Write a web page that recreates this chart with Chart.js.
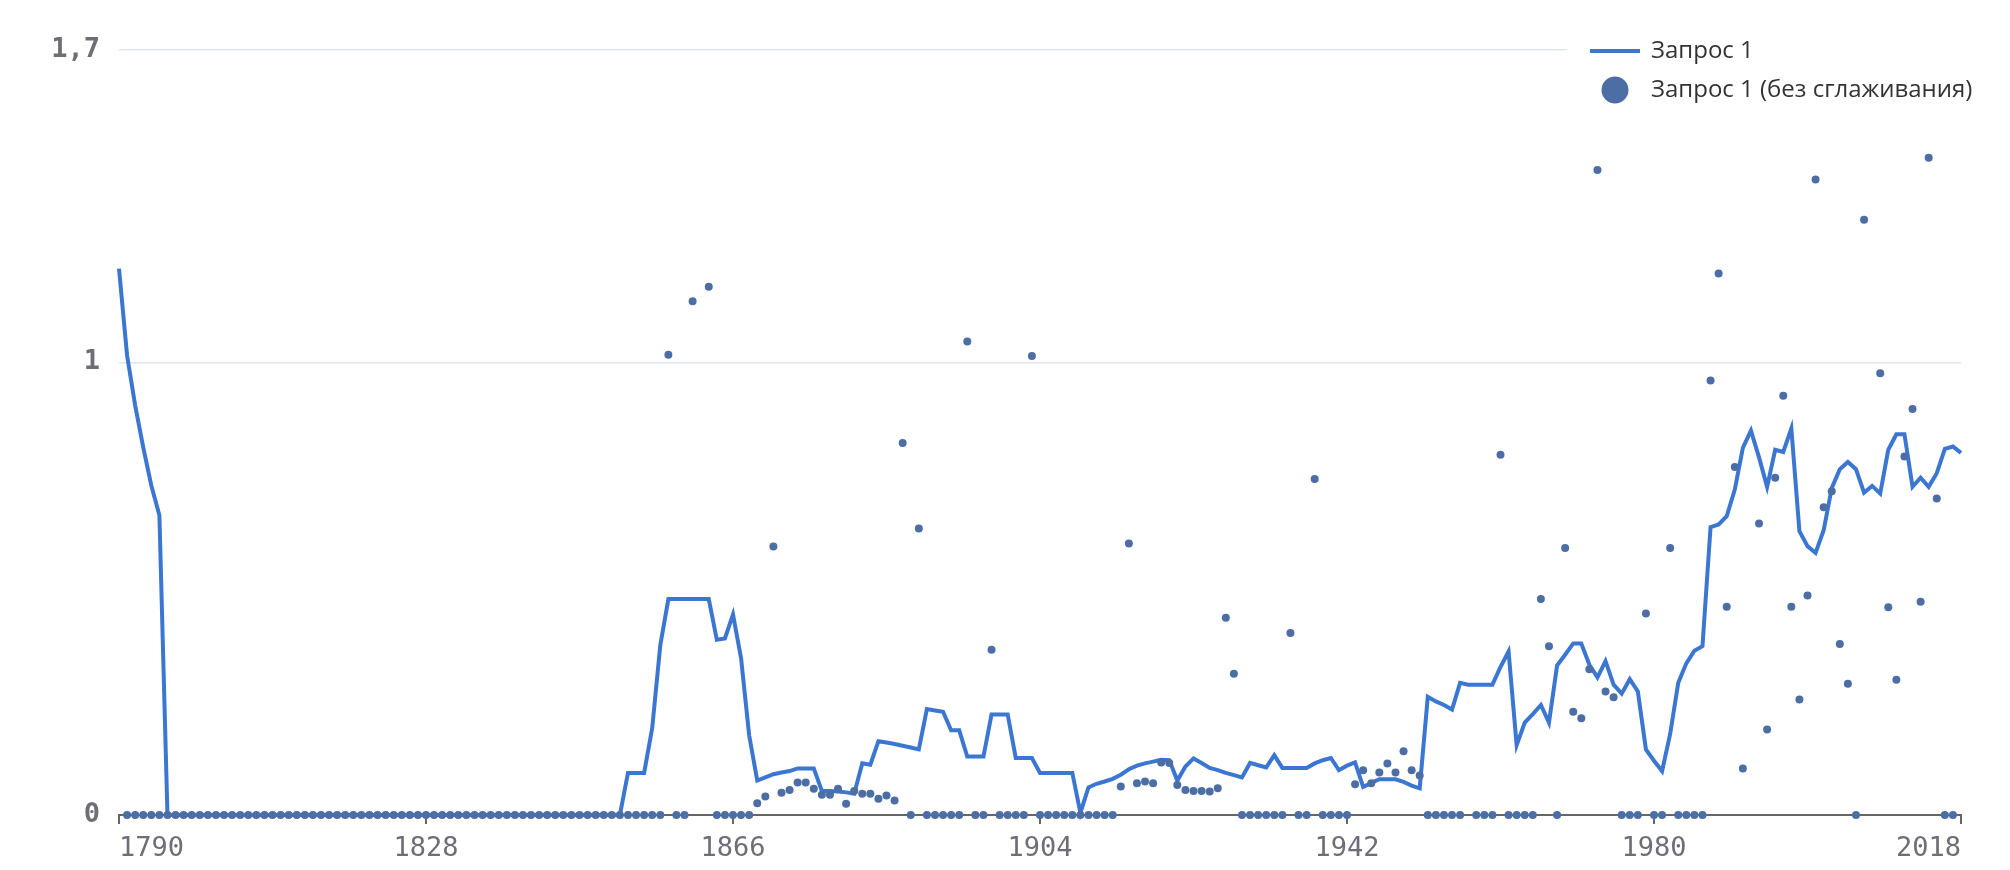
<!DOCTYPE html>
<html>
<head>
<meta charset="utf-8">
<script src="https://cdn.jsdelivr.net/npm/chart.js@4.4.1/dist/chart.umd.min.js"></script>
<style>
  html, body { margin: 0; padding: 0; background: #fff; }
  canvas { display: block; }
</style>
</head>
<body>
<canvas id="ngram" width="2010" height="870"></canvas>
<script>
// first year of both series, one value per year
const firstYear = 1790;
const tickYears = [1790, 1828, 1866, 1904, 1942, 1980, 2018];
const yTicks = [0, 1, 1.69];
const seriesNames = ["Запрос 1", "Запрос 1 (без сглаживания)"];

// smoothed
const smoothed = [
  1.207, 1.015, 0.905, 0.812, 0.728, 0.662, 0, 0, 0, 0,
  0, 0, 0, 0, 0, 0, 0, 0, 0, 0,
  0, 0, 0, 0, 0, 0, 0, 0, 0, 0,
  0, 0, 0, 0, 0, 0, 0, 0, 0, 0,
  0, 0, 0, 0, 0, 0, 0, 0, 0, 0,
  0, 0, 0, 0, 0, 0, 0, 0, 0, 0,
  0, 0, 0, 0.093, 0.093, 0.093, 0.192, 0.375, 0.477, 0.477,
  0.477, 0.477, 0.477, 0.477, 0.387, 0.39, 0.443, 0.346, 0.176, 0.076,
  0.083, 0.09, 0.094, 0.097, 0.103, 0.103, 0.103, 0.053, 0.053, 0.052,
  0.05, 0.047, 0.114, 0.111, 0.163, 0.16, 0.157, 0.153, 0.149, 0.145,
  0.234, 0.231, 0.228, 0.187, 0.187, 0.129, 0.129, 0.129, 0.222, 0.222,
  0.222, 0.126, 0.126, 0.126, 0.093, 0.093, 0.093, 0.093, 0.093, 0.005,
  0.061, 0.069, 0.074, 0.08, 0.089, 0.101, 0.109, 0.114, 0.118, 0.122,
  0.121, 0.076, 0.107, 0.125, 0.115, 0.104, 0.099, 0.093, 0.088, 0.083,
  0.115, 0.11, 0.105, 0.132, 0.104, 0.104, 0.104, 0.104, 0.114, 0.121,
  0.126, 0.099, 0.109, 0.116, 0.062, 0.071, 0.079, 0.079, 0.079, 0.073,
  0.065, 0.059, 0.261, 0.251, 0.243, 0.233, 0.292, 0.288, 0.288, 0.288,
  0.288, 0.327, 0.361, 0.154, 0.204, 0.223, 0.243, 0.204, 0.33, 0.354,
  0.379, 0.379, 0.332, 0.304, 0.34, 0.288, 0.268, 0.3, 0.273, 0.145,
  0.12, 0.097, 0.179, 0.292, 0.335, 0.363, 0.373, 0.636, 0.642, 0.66,
  0.719, 0.811, 0.849, 0.79, 0.725, 0.807, 0.802, 0.854, 0.627, 0.594,
  0.579, 0.629, 0.722, 0.764, 0.78, 0.764, 0.712, 0.727, 0.71, 0.807,
  0.841, 0.841, 0.725, 0.745, 0.725, 0.755, 0.809, 0.814, 0.8
];

// raw yearly values (null = no point)
const raw = [
  null, 0, 0, 0, 0, 0, 0, 0, 0, 0,
  0, 0, 0, 0, 0, 0, 0, 0, 0, 0,
  0, 0, 0, 0, 0, 0, 0, 0, 0, 0,
  0, 0, 0, 0, 0, 0, 0, 0, 0, 0,
  0, 0, 0, 0, 0, 0, 0, 0, 0, 0,
  0, 0, 0, 0, 0, 0, 0, 0, 0, 0,
  0, 0, 0, 0, 0, 0, 0, 0, 1.017, 0,
  0, 1.135, null, 1.167, 0, 0, 0, 0, 0, 0.026,
  0.041, 0.593, 0.049, 0.055, 0.072, 0.072, 0.058, 0.045, 0.045, 0.058,
  0.025, 0.053, 0.047, 0.047, 0.036, 0.043, 0.032, 0.822, 0, 0.633,
  0, 0, 0, 0, 0, 1.046, 0, 0, 0.365, 0,
  0, 0, 0, 1.014, 0, 0, 0, 0, 0, 0,
  0, 0, 0, 0, 0.063, 0.6, 0.07, 0.074, 0.07, 0.116,
  0.115, 0.066, 0.055, 0.053, 0.053, 0.052, 0.059, 0.436, 0.312, 0,
  0, 0, 0, 0, 0, 0.402, 0, 0, 0.742, 0,
  0, 0, 0, 0.068, 0.099, 0.07, 0.094, 0.114, 0.094, 0.141,
  0.099, 0.087, 0, 0, 0, 0, 0, null, 0, 0,
  0, 0.796, 0, 0, 0, 0, 0.477, 0.373, 0, 0.59,
  0.228, 0.214, 0.322, 1.425, 0.273, 0.26, 0, 0, 0, 0.445,
  0, 0, 0.59, 0, 0, 0, 0, 0.96, 1.196, 0.46,
  0.769, 0.103, null, 0.644, 0.189, 0.745, 0.926, 0.46, 0.255, 0.485,
  1.404, 0.68, 0.715, 0.378, 0.29, 0, 1.315, null, 0.976, 0.459,
  0.299, 0.792, 0.897, 0.471, 1.452, 0.699, 0, 0, null
];

const toPoints = arr => arr.map((v, i) => ({ x: firstYear + i, y: v }));

const labelColor = "#6e6e76";

const legendPlugin = {
  id: "legendBox",
  afterDraw(chart) {
    const { ctx } = chart;
    const ds = chart.data.datasets;
    ctx.save();
    ctx.fillStyle = "#fff";
    ctx.fillRect(1567, 18, 443, 97);

    ctx.strokeStyle = ds[0].borderColor;
    ctx.lineWidth = 4;
    ctx.beginPath();
    ctx.moveTo(1590, 51);
    ctx.lineTo(1640, 51);
    ctx.stroke();

    ctx.fillStyle = ds[1].backgroundColor;
    ctx.beginPath();
    ctx.arc(1615, 90, 13.5, 0, 2 * Math.PI);
    ctx.fill();

    ctx.fillStyle = "#333";
    ctx.font = "24px 'Open Sans', 'Noto Sans', sans-serif";
    ctx.textAlign = "left";
    ctx.textBaseline = "middle";
    ctx.fillText(ds[0].label, 1651, 51);
    ctx.fillText(ds[1].label, 1651, 90);
    ctx.restore();
  },
};

new Chart(document.getElementById("ngram").getContext("2d"), {
  type: "line",
  data: {
    datasets: [
      {
        label: seriesNames[0],
        data: toPoints(smoothed),
        borderColor: "#3a76d2",
        borderWidth: 4,
        pointRadius: 0,
        tension: 0,
        fill: false,
        clip: false,
        order: 1,
      },
      {
        label: seriesNames[1],
        data: toPoints(raw),
        showLine: false,
        backgroundColor: "#4d6ea5",
        borderColor: "#4d6ea5",
        borderWidth: 0,
        pointRadius: 4,
        clip: false,
        order: 0,
      },
    ],
  },
  options: {
    responsive: false,
    animation: false,
    layout: { padding: { top: 50, right: 49, bottom: 0, left: 0 } },
    plugins: {
      legend: { display: false },
      tooltip: { enabled: false },
    },
    scales: {
      x: {
        type: "linear",
        min: 1790,
        max: 2018,
        afterBuildTicks(scale) {
          scale.ticks = tickYears.map(v => ({ value: v }));
        },
        afterFit(scale) {
          scale.height = 55;
        },
        ticks: {
          align: "inner",
          autoSkip: false,
          maxRotation: 0,
          padding: 9,
          color: labelColor,
          font: { family: "'DejaVu Sans Mono', monospace", size: 27 },
          callback: v => String(v),
        },
        grid: {
          drawOnChartArea: false,
          drawTicks: true,
          tickLength: 9,
          color: "#666",
          lineWidth: 2,
        },
        border: { color: "#666", width: 2 },
      },
      y: {
        min: 0,
        max: 1.69,
        afterBuildTicks(scale) {
          scale.ticks = yTicks.map(v => ({ value: v }));
        },
        afterFit(scale) {
          scale.width = 119;
        },
        ticks: {
          padding: 19,
          color: labelColor,
          font: { family: "'DejaVu Sans Mono', monospace", size: 27, weight: "bold" },
          callback: v => (Number.isInteger(v) ? String(v) : v.toFixed(1).replace(".", ",")),
        },
        grid: {
          drawTicks: false,
          color: ctx => (ctx.tick && ctx.tick.value === 0 ? "rgba(0,0,0,0)" : "#dfe3f2"),
          lineWidth: 1.5,
        },
        border: { display: false },
      },
    },
  },
  plugins: [legendPlugin],
});
</script>
</body>
</html>
